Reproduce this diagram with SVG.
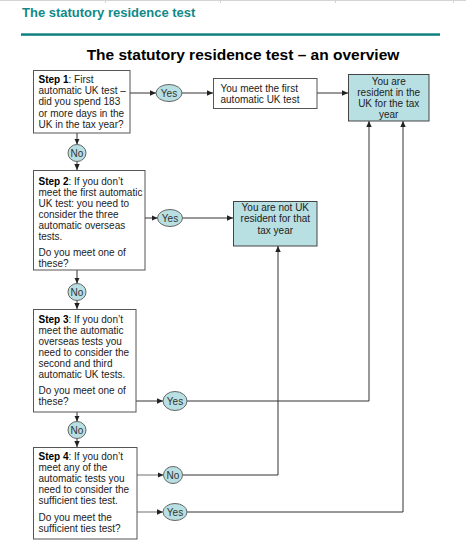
<svg xmlns="http://www.w3.org/2000/svg" width="466" height="558" viewBox="0 0 466 558">
<defs>
<marker id="ah" markerUnits="userSpaceOnUse" markerWidth="6" markerHeight="6" refX="6" refY="3" orient="auto">
<path d="M0,0.3 L6,3 L0,5.7 z" fill="#222"/>
</marker>
<style>
.t{font-family:"Liberation Sans",Arial,sans-serif;font-size:10px;fill:#222}
.b{font-weight:bold;fill:#000}
.c{text-anchor:middle}
.box{fill:#fff;stroke:#555;stroke-width:1}
.res{fill:#b8dfe2;stroke:#444;stroke-width:1}
.oval{fill:#b8dfe2;stroke:#666;stroke-width:1}
.ol{font-family:"Liberation Sans",Arial,sans-serif;font-size:10px;fill:#333;text-anchor:middle}
.ln{fill:none;stroke:#333;stroke-width:1}
.lg{fill:none;stroke:#888;stroke-width:1.2}
</style>
</defs>
<rect width="466" height="558" fill="#fff"/>
<g id="topframe" stroke="#d4d4d4" stroke-width="1" fill="none">
<path d="M0,0.5 H466"/>
<path d="M105.5,0 V3 M220.5,0 V3 M335.5,0 V3 M453.5,0 V3"/>
</g>
<text x="22" y="17" font-family="Liberation Sans,Arial,sans-serif" font-size="13" font-weight="bold" fill="#10898a">The statutory residence test</text>
<rect x="21" y="33.3" width="419" height="2.5" fill="#0f8080"/>
<text x="243" y="59.5" font-family="Liberation Sans,Arial,sans-serif" font-size="15.5" font-weight="bold" fill="#000" text-anchor="middle">The statutory residence test – an overview</text>

<g id="connectors">
<path class="ln" d="M130,93 H156" marker-end="url(#ah)"/>
<path class="ln" d="M182,93 H213" marker-end="url(#ah)"/>
<path class="ln" d="M317,93 H348" marker-end="url(#ah)"/>
<path class="ln" d="M77,133 V144.5" marker-end="url(#ah)"/>
<path class="ln" d="M77,161.5 V170" marker-end="url(#ah)"/>
<path class="ln" d="M145,218 H157.5" marker-end="url(#ah)"/>
<path class="ln" d="M182.5,218 H233" marker-end="url(#ah)"/>
<path class="ln" d="M77,270 V283.5" marker-end="url(#ah)"/>
<path class="ln" d="M77,300.5 V309" marker-end="url(#ah)"/>
<path class="ln" d="M136,401 H163" marker-end="url(#ah)"/>
<path class="ln" d="M187,401 H369 V121" marker-end="url(#ah)"/>
<path class="ln" d="M77,412 V421.5" marker-end="url(#ah)"/>
<path class="ln" d="M77,438.5 V447" marker-end="url(#ah)"/>
<path class="lg" d="M137,475 H163.5" marker-end="url(#ah)"/>
<path class="ln" d="M182.5,475 H278 V246" marker-end="url(#ah)"/>
<path class="lg" d="M137,512 H163" marker-end="url(#ah)"/>
<path class="ln" d="M187,512 H403 V121" marker-end="url(#ah)"/>
</g>

<g id="step1">
<rect class="box" x="33.5" y="70.5" width="96.5" height="62.5"/>
<text class="t" x="38.5" y="83"><tspan class="b">Step 1</tspan>: First</text>
<text class="t" x="38.5" y="94.2">automatic UK test –</text>
<text class="t" x="38.5" y="105.4">did you spend 183</text>
<text class="t" x="38.5" y="116.6">or more days in the</text>
<text class="t" x="38.5" y="127.8">UK in the tax year?</text>
</g>
<g id="yes1"><ellipse class="oval" cx="169" cy="93" rx="13" ry="8.5"/><text class="ol" x="169" y="96.5">Yes</text></g>
<g id="meetfirst">
<rect class="box" x="213.5" y="78.5" width="103.5" height="30"/>
<text class="t" x="220.5" y="91.5">You meet the first</text>
<text class="t" x="220.5" y="102.5">automatic UK test</text>
</g>
<g id="resident">
<rect class="res" x="348.5" y="74.5" width="80.5" height="46.5"/>
<text class="t c" x="388.7" y="85.2">You are</text>
<text class="t c" x="388.7" y="96.2">resident in the</text>
<text class="t c" x="388.7" y="107.2">UK for the tax</text>
<text class="t c" x="388.7" y="118.2">year</text>
</g>
<g id="no1"><ellipse class="oval" cx="77" cy="153" rx="9" ry="8.5"/><text class="ol" x="77" y="156.5">No</text></g>

<g id="step2">
<rect class="box" x="33.5" y="170.5" width="111.5" height="99.5"/>
<text class="t" x="38.5" y="184.5"><tspan class="b">Step 2</tspan>: If you don’t</text>
<text class="t" x="38.5" y="195.5">meet the first automatic</text>
<text class="t" x="38.5" y="206.5">UK test: you need to</text>
<text class="t" x="38.5" y="217.5">consider the three</text>
<text class="t" x="38.5" y="228.5">automatic overseas</text>
<text class="t" x="38.5" y="239.5">tests.</text>
<text class="t" x="38.5" y="255.5">Do you meet one of</text>
<text class="t" x="38.5" y="266.5">these?</text>
</g>
<g id="yes2"><ellipse class="oval" cx="170" cy="218" rx="12.5" ry="8.5"/><text class="ol" x="170" y="221.5">Yes</text></g>
<g id="notresident">
<rect class="res" x="233.5" y="201.5" width="83.5" height="44.5"/>
<text class="t c" x="275.3" y="210.5">You are not UK</text>
<text class="t c" x="275.3" y="222.2">resident for that</text>
<text class="t c" x="275.3" y="233.8">tax year</text>
</g>
<g id="no2"><ellipse class="oval" cx="77" cy="292" rx="9" ry="8.5"/><text class="ol" x="77" y="295.5">No</text></g>

<g id="step3">
<rect class="box" x="33.5" y="309.5" width="102.5" height="102.5"/>
<text class="t" x="38.5" y="322.5"><tspan class="b">Step 3</tspan>: If you don’t</text>
<text class="t" x="38.5" y="333.5">meet the automatic</text>
<text class="t" x="38.5" y="344.5">overseas tests you</text>
<text class="t" x="38.5" y="355.5">need to consider the</text>
<text class="t" x="38.5" y="366.5">second and third</text>
<text class="t" x="38.5" y="377.5">automatic UK tests.</text>
<text class="t" x="38.5" y="393.5">Do you meet one of</text>
<text class="t" x="38.5" y="404.5">these?</text>
</g>
<g id="yes3"><ellipse class="oval" cx="175" cy="401" rx="12" ry="9.5"/><text class="ol" x="175" y="404.5">Yes</text></g>
<g id="no3"><ellipse class="oval" cx="77" cy="430" rx="9" ry="8.5"/><text class="ol" x="77" y="433.5">No</text></g>

<g id="step4">
<rect class="box" x="33.5" y="447.5" width="103.5" height="91.5"/>
<text class="t" x="38.5" y="459.5"><tspan class="b">Step 4</tspan>: If you don’t</text>
<text class="t" x="38.5" y="470.5">meet any of the</text>
<text class="t" x="38.5" y="481.5">automatic tests you</text>
<text class="t" x="38.5" y="492.5">need to consider the</text>
<text class="t" x="38.5" y="503.5">sufficient ties test.</text>
<text class="t" x="38.5" y="520.5">Do you meet the</text>
<text class="t" x="38.5" y="531.5">sufficient ties test?</text>
</g>
<g id="no4"><ellipse class="oval" cx="173" cy="475" rx="9.5" ry="8.5"/><text class="ol" x="173" y="478.5">No</text></g>
<g id="yes4"><ellipse class="oval" cx="175" cy="512" rx="12" ry="8.5"/><text class="ol" x="175" y="515.5">Yes</text></g>
</svg>
